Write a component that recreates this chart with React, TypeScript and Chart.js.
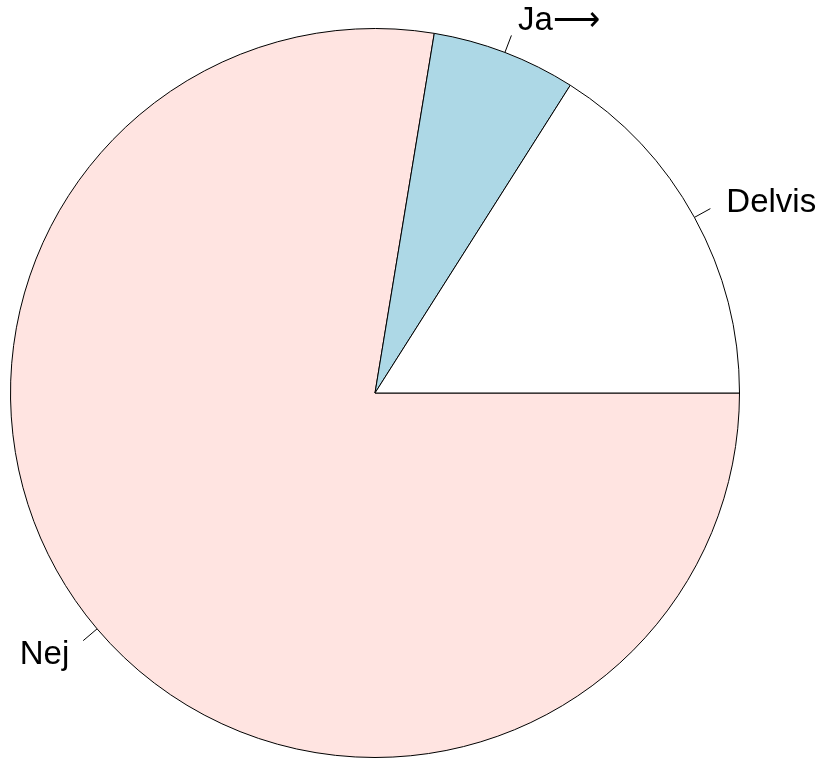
import React, { useEffect, useRef } from "react";
import { Chart, registerables } from "chart.js";

Chart.register(...registerables);

const labels = ["Nej", "Ja\u27F6", "Delvis"];
const values = [0.776, 0.064, 0.16];
const colors = ["#FFE4E1", "#ADD8E6", "#FFFFFF"];

const FONT_SIZE = 33;

const pieLabels = {
  id: "pieLabels",
  afterDraw(chart: any) {
    const ctx = chart.ctx;
    const meta = chart.getDatasetMeta(0);
    ctx.save();
    ctx.font = `${FONT_SIZE}px 'Liberation Sans', Arial, sans-serif`;
    ctx.fillStyle = "#000";
    ctx.strokeStyle = "#000";
    ctx.lineWidth = 1;
    meta.data.forEach((arc: any, i: number) => {
      const { x, y, startAngle, endAngle, outerRadius } = arc.getProps(
        ["x", "y", "startAngle", "endAngle", "outerRadius"],
        true
      );
      const mid = (startAngle + endAngle) / 2;
      const c = Math.cos(mid);
      const s = Math.sin(mid);
      ctx.beginPath();
      ctx.moveTo(x + outerRadius * c, y + outerRadius * s);
      ctx.lineTo(x + outerRadius * 1.05 * c, y + outerRadius * 1.05 * s);
      ctx.stroke();
      ctx.textAlign = c >= 0 ? "left" : "right";
      ctx.textBaseline = "alphabetic";
      ctx.fillText(
        labels[i],
        x + outerRadius * 1.1 * c,
        y + outerRadius * 1.1 * s + FONT_SIZE * 0.36
      );
    });
    ctx.restore();
  },
};

export default function App() {
  const ref = useRef<HTMLCanvasElement>(null);
  useEffect(() => {
    if (!ref.current) return;
    const chart = new Chart(ref.current, {
      type: "pie",
      data: {
        labels,
        datasets: [
          {
            data: values,
            backgroundColor: colors,
            borderColor: "#000",
            borderWidth: 1,
          },
        ],
      },
      options: {
        animation: false,
        responsive: false,
        rotation: 90,
        layout: { padding: { left: 10, right: 82, top: 28, bottom: 0 } },
        plugins: { legend: { display: false }, tooltip: { enabled: false } },
      },
      plugins: [pieLabels],
    });
    return () => chart.destroy();
  }, []);
  return (
    <div style={{ position: "fixed", left: 0, top: 0, width: 822, height: 758, background: "#fff" }}>
      <canvas ref={ref} width={822} height={758} />
    </div>
  );
}
